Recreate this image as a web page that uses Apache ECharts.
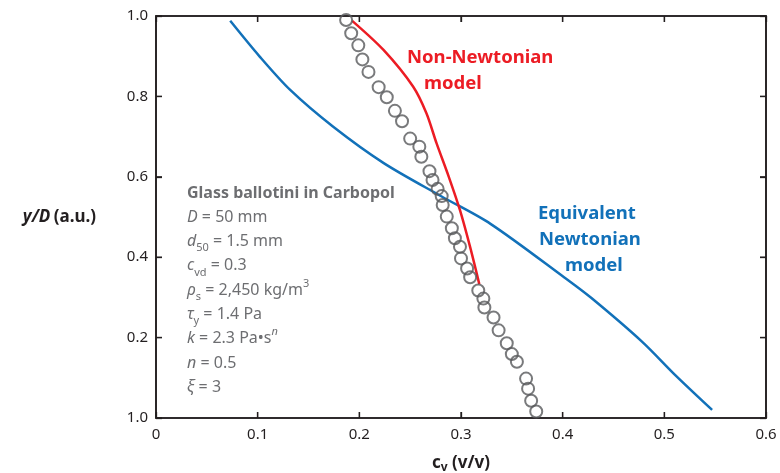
<!DOCTYPE html>
<html>
<head>
<meta charset="utf-8">
<script src="https://cdn.jsdelivr.net/npm/echarts@6/dist/echarts.min.js"></script>
</head>
<body style="margin:0">
<div id="chart" style="width:780px;height:473px"></div>
<script>
// Measured concentration profile: [c_v, y/D]
const measured = [
  [0.187, 0.990], [0.192, 0.957], [0.199, 0.927], [0.203, 0.892], [0.209, 0.861],
  [0.219, 0.823], [0.227, 0.798], [0.235, 0.764], [0.242, 0.738], [0.250, 0.695],
  [0.259, 0.675], [0.261, 0.650], [0.269, 0.614], [0.272, 0.592], [0.277, 0.570],
  [0.281, 0.552], [0.282, 0.530], [0.286, 0.501], [0.291, 0.472], [0.294, 0.447],
  [0.299, 0.426], [0.300, 0.397], [0.306, 0.372], [0.309, 0.350], [0.317, 0.317],
  [0.322, 0.297], [0.323, 0.275], [0.332, 0.250], [0.337, 0.218], [0.345, 0.186],
  [0.350, 0.159], [0.355, 0.140], [0.364, 0.098], [0.366, 0.073], [0.369, 0.043],
  [0.374, 0.016]
];

// Non-Newtonian model prediction
const nonNewtonian = [
  [0.193, 0.988], [0.224, 0.915], [0.253, 0.824], [0.266, 0.758], [0.276, 0.683],
  [0.288, 0.600], [0.299, 0.517], [0.309, 0.425], [0.318, 0.333]
];

// Equivalent Newtonian model prediction
const newtonian = [
  [0.073, 0.988], [0.102, 0.899], [0.132, 0.816], [0.174, 0.725], [0.224, 0.634],
  [0.281, 0.551], [0.329, 0.483], [0.402, 0.349], [0.428, 0.299], [0.478, 0.190],
  [0.511, 0.106], [0.547, 0.020]
];

const xTickLabels = ['0', '0.1', '0.2', '0.3', '0.4', '0.5', '0.6'];
const yTickLabels = ['1.0', '0.2', '0.4', '0.6', '0.8', '1.0'];
const X_STEP = 0.1;
const Y_STEP = 0.2;

const FONT = '"Noto Sans", "Open Sans", sans-serif';
const INK = '#231f20';
const GREY = '#6d6e71';
const BLUE = '#1271b9';
const RED = '#ec1c24';

const axisLine = () => ({ show: true, onZero: false, lineStyle: { color: INK, width: 1.6 } });
const axisTick = () => ({ show: true, inside: true, length: 6, lineStyle: { color: INK, width: 1.3 } });

// Parameter block, one line per element
const mainStyle = { fontSize: 16, fontFamily: FONT, fill: GREY, lineHeight: 24 };
const richParams = {
  b: Object.assign({}, mainStyle, { fontWeight: 'bold' }),
  i: Object.assign({}, mainStyle, { fontStyle: 'italic' }),
  s: { fontSize: 11, fontFamily: FONT, fill: GREY, verticalAlign: 'bottom' },
  p: { fontSize: 11, fontFamily: FONT, fill: GREY, verticalAlign: 'top' },
  ip: { fontSize: 11, fontFamily: FONT, fill: GREY, verticalAlign: 'top', fontStyle: 'italic' }
};

const paramLines = [
  '{b|Glass ballotini in Carbopol}',
  '{i|D} = 50 mm',
  '{i|d}{s|50} = 1.5 mm',
  '{i|c}{s|vd} = 0.3',
  '{i|ρ}{s|s} = 2,450 kg/m{p|3}',
  '{i|τ}{s|y} = 1.4 Pa',
  '{i|k} = 2.3 Pa•s{ip|n}',
  '{i|n} = 0.5',
  '{i|ξ} = 3'
];

const graphics = paramLines.map((txt, i) => ({
  type: 'text',
  x: 187,
  y: 181 + i * 24.3,
  style: { text: txt, fontSize: 16, fontFamily: FONT, fill: GREY, lineHeight: 24, rich: richParams }
}));

// Curve labels
[
  ['Non-Newtonian', 407, 58, RED],
  ['model', 424, 84, RED],
  ['Equivalent', 538, 214, BLUE],
  ['Newtonian', 539, 240, BLUE],
  ['model', 565, 266, BLUE]
].forEach(([t, x, y, c]) => graphics.push({
  type: 'text', x, y,
  style: { text: t, fill: c, fontSize: 18.5, fontWeight: 'bold', fontFamily: FONT, verticalAlign: 'middle' }
}));

const tickIndex = (v, step) => Math.round(v / step);

const chart = echarts.init(document.getElementById('chart'));
chart.setOption({
  animation: false,
  grid: { left: 156, right: 14, top: 16, bottom: 55, outerBoundsMode: 'none', containLabel: false },
  xAxis: [
    {
      type: 'value', min: 0, max: 0.6, interval: X_STEP, position: 'bottom',
      axisLine: axisLine(), axisTick: axisTick(), splitLine: { show: false },
      axisLabel: {
        color: INK, fontSize: 15, fontFamily: FONT, margin: 9,
        formatter: v => xTickLabels[tickIndex(v, X_STEP)] || ''
      },
      name: '{b|c}{s|v}{b| (v/v)}',
      nameLocation: 'middle', nameGap: 34,
      nameTextStyle: {
        rich: {
          b: { fontSize: 17, fontWeight: 'bold', fontFamily: FONT, color: INK, lineHeight: 22 },
          s: { fontSize: 12, fontWeight: 'bold', fontFamily: FONT, color: INK, verticalAlign: 'bottom' }
        }
      }
    },
    {
      type: 'value', min: 0, max: 0.6, interval: X_STEP, position: 'top',
      axisLine: axisLine(), axisTick: axisTick(), splitLine: { show: false },
      axisLabel: { show: false }
    }
  ],
  yAxis: [
    {
      type: 'value', min: 0, max: 1, interval: Y_STEP, position: 'left',
      axisLine: axisLine(), axisTick: axisTick(), splitLine: { show: false },
      axisLabel: {
        color: INK, fontSize: 15, fontFamily: FONT, margin: 8,
        formatter: v => yTickLabels[tickIndex(v, Y_STEP)] || ''
      },
      name: '{i|y/D} {b|(a.u.)}',
      nameLocation: 'middle', nameRotate: 0, nameGap: 60,
      nameTextStyle: {
        rich: {
          i: { fontSize: 17, fontWeight: 'bold', fontStyle: 'italic', fontFamily: FONT, color: INK },
          b: { fontSize: 17, fontWeight: 'bold', fontFamily: FONT, color: INK }
        }
      }
    },
    {
      type: 'value', min: 0, max: 1, interval: Y_STEP, position: 'right',
      axisLine: axisLine(), axisTick: axisTick(), splitLine: { show: false },
      axisLabel: { show: false }
    }
  ],
  series: [
    {
      type: 'line', data: newtonian, showSymbol: false, smooth: 0.3,
      lineStyle: { color: BLUE, width: 2.5 }, z: 2
    },
    {
      type: 'line', data: nonNewtonian, showSymbol: false, smooth: 0.3,
      lineStyle: { color: RED, width: 2.5 }, z: 3
    },
    {
      type: 'scatter', data: measured, symbol: 'circle', symbolSize: 12,
      itemStyle: { color: 'rgba(0,0,0,0)', borderColor: '#58595b', borderWidth: 2 }, z: 4
    }
  ],
  graphic: graphics
});

// Box frame with inward ticks on all four sides, placed through the cartesian scales
const px = (x, y) => chart.convertToPixel({ gridIndex: 0 }, [x, y]);
const [l, t] = px(0, 1);
const [r, b] = px(0.6, 0);
const frame = [{
  type: 'rect', silent: true, z: 1,
  shape: { x: l, y: t, width: r - l, height: b - t },
  style: { fill: null, stroke: INK, lineWidth: 1.6 }
}];
const tickLine = (x1, y1, x2, y2) => ({
  type: 'line', silent: true, z: 1,
  shape: { x1, y1, x2, y2 }, style: { stroke: INK, lineWidth: 1.3 }
});
xTickLabels.forEach((_, i) => {
  const [x] = px(i * X_STEP, 0);
  frame.push(tickLine(x, b, x, b - 6), tickLine(x, t, x, t + 6));
});
yTickLabels.forEach((_, i) => {
  const [, y] = px(0, i * Y_STEP);
  frame.push(tickLine(l, y, l + 6, y), tickLine(r, y, r - 6, y));
});
chart.setOption({ graphic: graphics.concat(frame) });
</script>
</body>
</html>
